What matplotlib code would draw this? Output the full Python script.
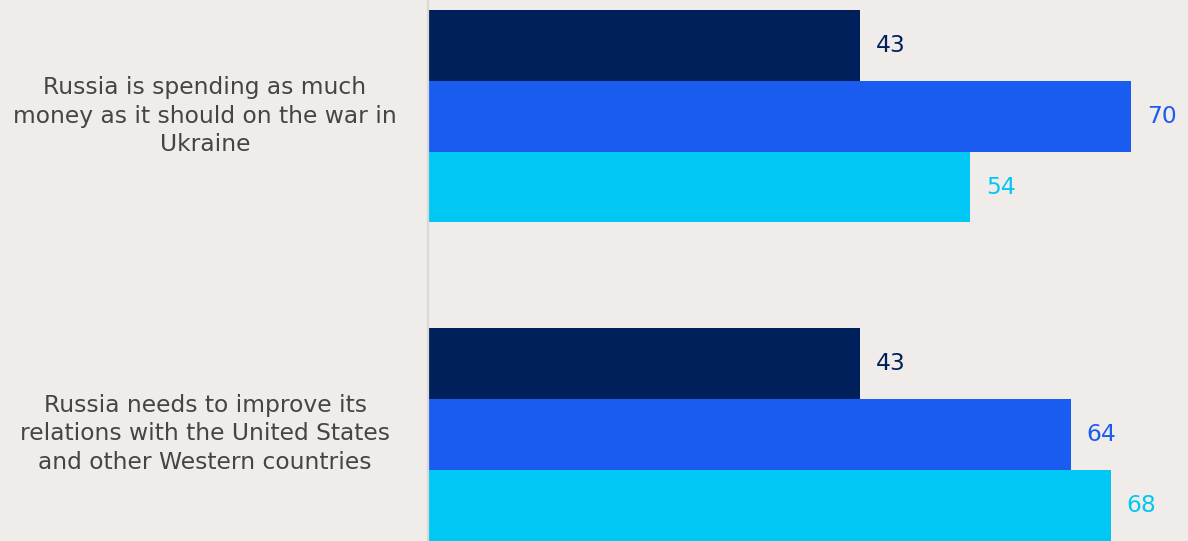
import matplotlib.pyplot as plt
import numpy as np

statements = [
    "Russia is spending as much\nmoney as it should on the war in\nUkraine",
    "Russia needs to improve its\nrelations with the United States\nand other Western countries",
]
series_colors = ["#00205c", "#1a5cf0", "#00c7f4"]
values_a = [43, 43]
values_b = [70, 64]
values_c = [54, 68]

BG = "#f0ecea"
FONT = "DejaVu Sans"


def main():
    fig = plt.figure(figsize=(11.88, 5.41), dpi=100, facecolor=BG)
    ax = fig.add_axes([428 / 1188, 0, 1 - 428 / 1188, 1], facecolor=BG)

    y = np.arange(len(statements))
    h = 0.223
    for i, (vals, color) in enumerate(zip([values_a, values_b, values_c], series_colors)):
        pos = y + (i - 1) * h
        ax.barh(pos, vals, height=h, color=color, edgecolor="none")
        for p, v in zip(pos, vals):
            ax.text(v + 1.6, p, str(v), va="center", ha="left",
                    fontsize=16.8, color=color, family=FONT)

    ax.set_xlim(0, 75.7)
    ax.set_ylim(1.336, -0.365)

    for s in ["top", "right", "bottom"]:
        ax.spines[s].set_visible(False)
    ax.spines["left"].set_color("#dcd8d5")
    ax.spines["left"].set_linewidth(1.6)
    ax.set_xticks([])
    ax.set_yticks([])

    for yi, label in zip(y, statements):
        fig.text(205 / 1188, 1 - (116 + 318 * yi) / 541, label, ha="center", va="center",
                 fontsize=16.8, color="#454545", family=FONT, linespacing=1.28)

    fig.savefig("out.png", dpi=100, facecolor=BG)


if __name__ == "__main__":
    main()
